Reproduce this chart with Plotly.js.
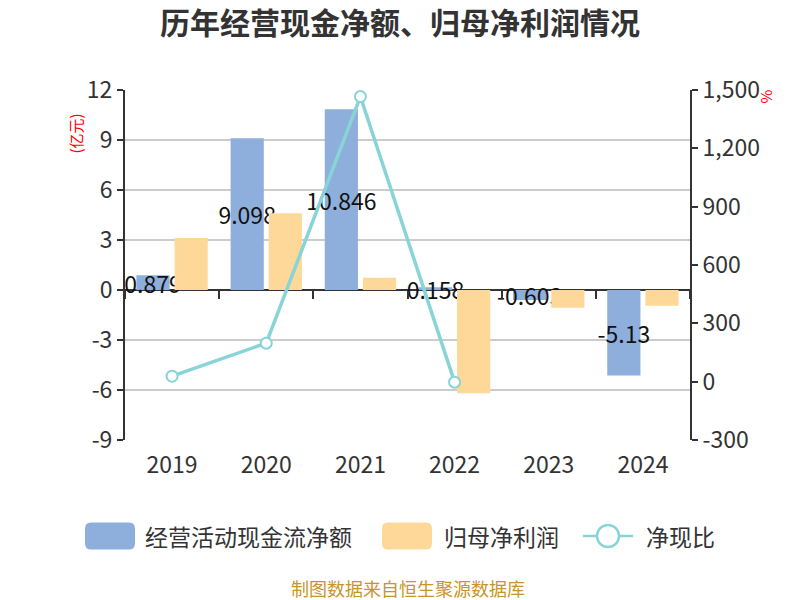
<!DOCTYPE html>
<html>
<head>
<meta charset="utf-8">
<script src="https://cdn.plot.ly/plotly-3.0.1.min.js"></script>
<style>html,body{margin:0;padding:0;background:#fff;}#chart{width:800px;height:600px;}</style>
</head>
<body>
<div id="chart"></div>
<script>
// ---- data ----
const years = ["2019", "2020", "2021", "2022", "2023", "2024"];
const cashFlow = [0.879, 9.098, 10.846, 0.158, -0.603, -5.13];      // 经营活动现金流净额 (亿元)
const netProfit = [3.12, 4.6, 0.74, -6.2, -1.06, -0.94];             // 归母净利润 (亿元)
const cashRatio = [28, 198, 1466, -2.5, null, null];                 // 净现比 (%)
const leftTicks = [-9, -6, -3, 0, 3, 6, 9, 12];
const rightTicks = [-300, 0, 300, 600, 900, 1200, 1500];
const seriesNames = ["经营活动现金流净额", "归母净利润", "净现比"];

// ---- style ----
const FONT = '"Noto Sans CJK SC", "Noto Sans", sans-serif';
const BLUE = "#8eaedb", ORANGE = "#fed898", TEAL = "#88d4d7", AXIS = "#333333";
const L = 125, R = 690, T = 90, B = 440; // plot area in px
const yMin = leftTicks[0], yMax = leftTicks[leftTicks.length - 1];
const y2Min = rightTicks[0], y2Max = rightTicks[rightTicks.length - 1];
const px2x = p => (p - L) / (R - L);
const px2y = p => (B - p) / (B - T);
const fmtComma = v => (v < 0 ? "-" : "") + Math.abs(v).toString().replace(/\B(?=(\d{3})+(?!\d))/g, ",");

const traces = [
  {
    type: "bar", name: seriesNames[0], x: years, y: cashFlow,
    marker: {color: BLUE},
    text: cashFlow.map(v => String(v)), textposition: "inside", insidetextanchor: "middle",
    textangle: 0, constraintext: "none", cliponaxis: false,
    textfont: {family: FONT, size: 23, color: "#111"},
    hoverinfo: "skip", showlegend: false
  },
  {
    type: "bar", name: seriesNames[1], x: years, y: netProfit,
    marker: {color: ORANGE},
    hoverinfo: "skip", showlegend: false
  },
  {
    type: "scatter", mode: "lines+markers", name: seriesNames[2], x: years, y: cashRatio,
    xaxis: "x2", yaxis: "y2",
    line: {color: TEAL, width: 3.5},
    marker: {symbol: "circle", size: 11, color: "#fff", line: {color: TEAL, width: 2}},
    connectgaps: false, cliponaxis: false,
    hoverinfo: "skip", showlegend: false
  }
];

// custom legend
const legendY = px2y(536);
function roundRect(w, h, r) {
  const x0 = -w / 2, x1 = w / 2, y0 = -h / 2, y1 = h / 2;
  return `M${x0 + r},${y0} L${x1 - r},${y0} Q${x1},${y0} ${x1},${y0 + r} L${x1},${y1 - r} Q${x1},${y1} ${x1 - r},${y1} ` +
         `L${x0 + r},${y1} Q${x0},${y1} ${x0},${y1 - r} L${x0},${y0 + r} Q${x0},${y0} ${x0 + r},${y0} Z`;
}
const shapes = [
  {type: "path", xref: "paper", yref: "paper", xsizemode: "pixel", ysizemode: "pixel",
   xanchor: px2x(110), yanchor: legendY, path: roundRect(50, 27, 6),
   fillcolor: BLUE, line: {width: 0}},
  {type: "path", xref: "paper", yref: "paper", xsizemode: "pixel", ysizemode: "pixel",
   xanchor: px2x(407), yanchor: legendY, path: roundRect(50, 27, 6),
   fillcolor: ORANGE, line: {width: 0}},
  {type: "line", xref: "paper", yref: "paper", x0: px2x(583), x1: px2x(633), y0: legendY, y1: legendY,
   line: {color: TEAL, width: 2.5}},
  {type: "circle", xref: "paper", yref: "paper", xsizemode: "pixel", ysizemode: "pixel",
   xanchor: px2x(608), yanchor: legendY, x0: -11, x1: 11, y0: -11, y1: 11,
   fillcolor: "#fff", line: {color: TEAL, width: 2.5}}
];

const annotations = [
  {text: seriesNames[0], x: px2x(143), y: legendY, xref: "paper", yref: "paper", xanchor: "left", yanchor: "middle",
   showarrow: false, font: {family: FONT, size: 23, color: "#333"}},
  {text: seriesNames[1], x: px2x(442), y: legendY, xref: "paper", yref: "paper", xanchor: "left", yanchor: "middle",
   showarrow: false, font: {family: FONT, size: 23, color: "#333"}},
  {text: seriesNames[2], x: px2x(644), y: legendY, xref: "paper", yref: "paper", xanchor: "left", yanchor: "middle",
   showarrow: false, font: {family: FONT, size: 23, color: "#333"}},
  {text: "(亿元)", x: px2x(62), y: px2y(112), xref: "paper", yref: "paper", textangle: -90,
   showarrow: false, font: {family: FONT, size: 15, color: "#ff0000"}},
  {text: "%", x: px2x(778), y: px2y(88), xref: "paper", yref: "paper", textangle: -90,
   showarrow: false, font: {family: FONT, size: 15, color: "#ff0000"}},
  {text: "制图数据来自恒生聚源数据库", x: 0.5, y: px2y(588), xref: "paper", yref: "paper", xanchor: "center", yanchor: "middle",
   showarrow: false, font: {family: FONT, size: 18, color: "#c8952a"}}
];

const layout = {
  width: 800, height: 600,
  margin: {l: L, r: 800 - R, t: T, b: 600 - B, pad: 0},
  paper_bgcolor: "#fff", plot_bgcolor: "#fff",
  font: {family: FONT, color: "#333"},
  title: {text: "<b>历年经营现金净额、归母净利润情况</b>", x: 0.5, xanchor: "center", y: 1 - 23 / 600, yanchor: "middle",
          font: {family: FONT, size: 30, color: "#333"}},
  barmode: "group", bargap: 0.19, bargroupgap: 0.13,
  showlegend: false,
  xaxis: {type: "category", categoryarray: years, range: [-0.5, years.length - 0.5],
          showline: false, showgrid: false, zeroline: false, ticks: "",
          tickfont: {family: FONT, size: 23, color: "#333"}, ticklabelstandoff: 9, fixedrange: true},
  xaxis2: {type: "category", categoryarray: years, range: [-0.5, years.length - 0.5], overlaying: "x",
           anchor: "free", position: (0 - yMin) / (yMax - yMin), side: "bottom",
           showline: false, showgrid: false, zeroline: false, showticklabels: false,
           ticks: "outside", tickson: "boundaries", ticklen: 8, tickwidth: 2, tickcolor: AXIS, fixedrange: true},
  yaxis: {range: [yMin, yMax], tickvals: leftTicks, ticktext: leftTicks.map(String),
          showgrid: true, gridcolor: "#cccccc", gridwidth: 1.5,
          showline: true, linecolor: AXIS, linewidth: 2, ticks: "outside", ticklen: 6, tickwidth: 2, tickcolor: AXIS,
          zeroline: true, zerolinecolor: AXIS, zerolinewidth: 2,
          tickfont: {family: FONT, size: 23, color: "#333"}, fixedrange: true},
  yaxis2: {range: [y2Min, y2Max], tickvals: rightTicks, ticktext: rightTicks.map(fmtComma),
           overlaying: "y", side: "right",
           showgrid: false, zeroline: false, showline: true, linecolor: AXIS, linewidth: 2,
           ticks: "outside", ticklen: 6, tickwidth: 2, tickcolor: AXIS,
           tickfont: {family: FONT, size: 23, color: "#333"}, fixedrange: true},
  shapes: shapes,
  annotations: annotations
};

Plotly.newPlot("chart", traces, layout, {displayModeBar: false, staticPlot: true});
</script>
</body>
</html>
